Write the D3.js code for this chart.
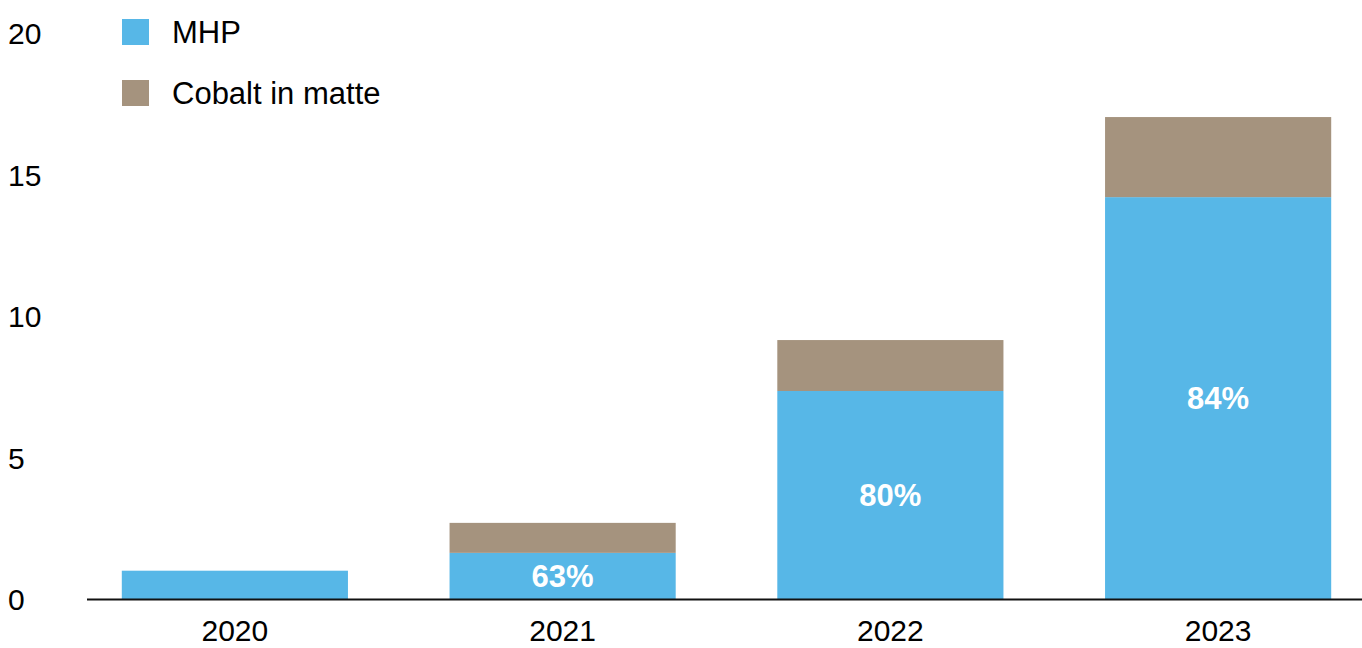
<!DOCTYPE html>
<html>
<head>
<meta charset="utf-8">
<script src="https://cdn.jsdelivr.net/npm/d3@7"></script>
<style>
  body { margin: 0; background: #fff; }
  text { font-family: 'Liberation Sans', Arial, Helvetica, sans-serif; }
</style>
</head>
<body>
<div id="chart"></div>
<script>
const years = ['2020', '2021', '2022', '2023']
const mhp = [1.0, 1.63, 7.35, 14.2]
const cobalt = [0, 1.06, 1.8, 2.83]
const shareLabels = ['', '63%', '80%', '84%']
const yTicks = [0, 5, 10, 15, 20]
const seriesNames = ['MHP', 'Cobalt in matte']

const colors = ['#57b7e7', '#a5937e']

const width = 1362
const height = 648

const svg = d3
  .select('#chart')
  .append('svg')
  .attr('width', width)
  .attr('height', height)

const xPositionScale = d3
  .scaleBand()
  .domain(years)
  .range([71, 1382])
  .paddingInner(0.31)
  .paddingOuter(0.155)

const yPositionScale = d3.scaleLinear().domain([0, 20]).range([599, 33])

const rows = years.map((y, i) => ({ year: y, MHP: mhp[i], 'Cobalt in matte': cobalt[i], label: shareLabels[i] }))
const stacked = d3.stack().keys(seriesNames)(rows)

// bars
svg
  .selectAll('.layer')
  .data(stacked)
  .enter()
  .append('g')
  .attr('class', 'layer')
  .attr('fill', (d, i) => colors[i])
  .selectAll('rect')
  .data(d => d)
  .enter()
  .append('rect')
  .attr('x', d => xPositionScale(d.data.year))
  .attr('y', d => yPositionScale(d[1]))
  .attr('width', xPositionScale.bandwidth())
  .attr('height', d => yPositionScale(d[0]) - yPositionScale(d[1]))

// share labels inside blue segment
svg
  .selectAll('.share')
  .data(rows.filter(d => d.label))
  .enter()
  .append('text')
  .attr('class', 'share')
  .attr('x', d => xPositionScale(d.year) + xPositionScale.bandwidth() / 2)
  .attr('y', d => yPositionScale(d.MHP / 2))
  .attr('dy', '0.36em')
  .attr('text-anchor', 'middle')
  .attr('fill', '#fff')
  .attr('font-weight', 'bold')
  .attr('font-size', 31)
  .text(d => d.label)

// y axis: labels only
const yAxis = d3.axisLeft(yPositionScale).tickValues(yTicks).tickSize(0).tickPadding(0)
const yG = svg.append('g').attr('class', 'axis y-axis').attr('transform', 'translate(8,0)').call(yAxis)
yG.select('.domain').remove()
yG.selectAll('text')
  .attr('text-anchor', 'start')
  .attr('x', 0)
  .attr('dy', '0.36em')
  .attr('font-size', 30)
  .attr('font-family', null)
  .attr('fill', '#000')

// x axis
const xAxis = d3.axisBottom(xPositionScale).tickSize(0).tickPadding(21)
const xG = svg.append('g').attr('class', 'axis x-axis').attr('transform', 'translate(0,599)').call(xAxis)
xG.select('.domain').remove()
xG.selectAll('text').attr('font-size', 30).attr('font-family', null).attr('fill', '#000')

svg
  .append('line')
  .attr('x1', 87)
  .attr('x2', width)
  .attr('y1', 599.5)
  .attr('y2', 599.5)
  .attr('stroke', '#111')
  .attr('stroke-width', 2)

// legend
const legend = svg
  .selectAll('.legend')
  .data(seriesNames)
  .enter()
  .append('g')
  .attr('class', 'legend')
  .attr('transform', (d, i) => 'translate(122,' + (19 + i * 61) + ')')

legend.append('rect').attr('width', 27).attr('height', 26).attr('fill', (d, i) => colors[i])
legend
  .append('text')
  .attr('x', 50)
  .attr('y', 13)
  .attr('dy', '0.36em')
  .attr('font-size', 31)
  .attr('fill', '#000')
  .text(d => d)
</script>
</body>
</html>
